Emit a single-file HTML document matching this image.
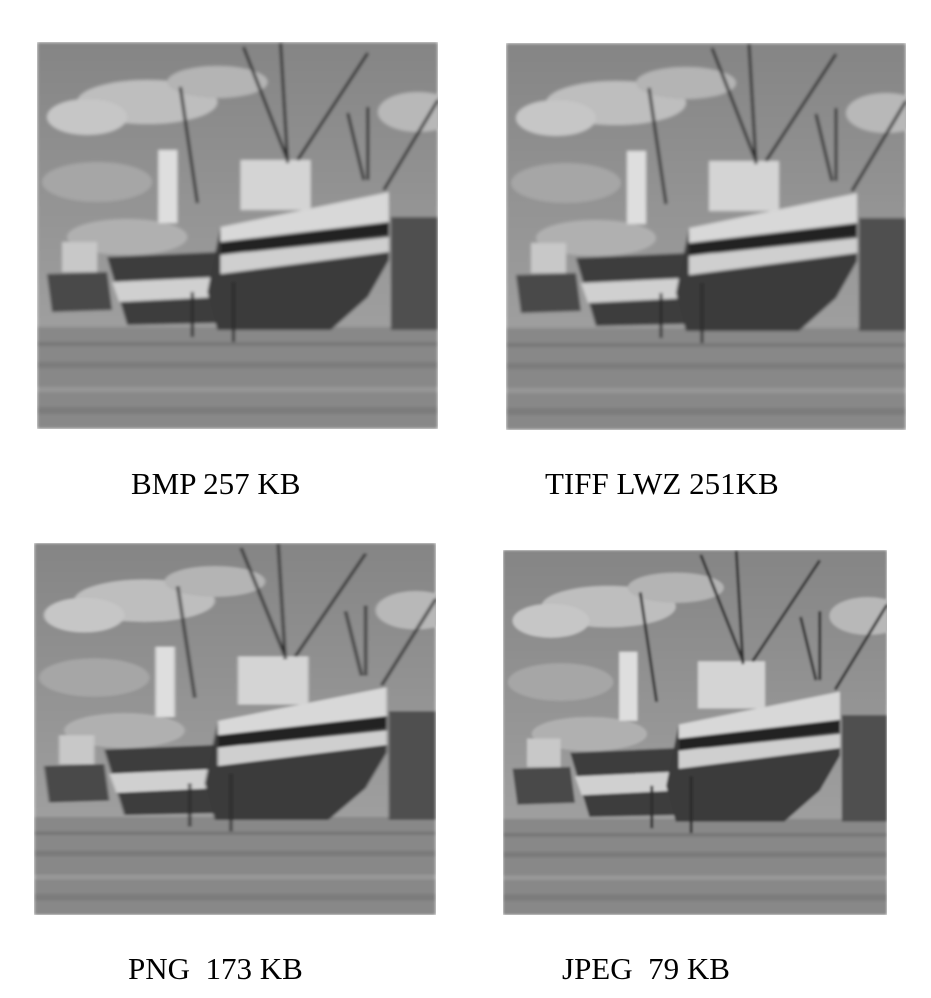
<!DOCTYPE html>
<html><head><meta charset="utf-8"><style>
html,body{margin:0;padding:0;background:#fff;}
body{width:931px;height:998px;position:relative;overflow:hidden;font-family:"Liberation Serif",serif;}
svg.img{position:absolute;}
.cap{position:absolute;font-size:31px;color:#000;white-space:pre;line-height:1;}
</style></head><body>
<svg width="0" height="0" style="position:absolute">
<defs>
<filter id="bl"><feGaussianBlur stdDeviation="1.5"/></filter>
<linearGradient id="sky" x1="0" y1="0" x2="0" y2="1"><stop offset="0" stop-color="#858585"/><stop offset="1" stop-color="#a0a0a0"/></linearGradient>
<symbol id="scene" viewBox="0 0 400 387" preserveAspectRatio="none">
<g filter="url(#bl)">
<rect width="400" height="300" fill="url(#sky)"/>
<ellipse cx="110" cy="60" rx="70" ry="22" fill="#bebebe"/>
<ellipse cx="50" cy="75" rx="40" ry="18" fill="#c6c6c6"/>
<ellipse cx="180" cy="40" rx="50" ry="16" fill="#b4b4b4"/>
<ellipse cx="380" cy="70" rx="40" ry="20" fill="#b8b8b8"/>
<ellipse cx="60" cy="140" rx="55" ry="20" fill="#a6a6a6"/>
<ellipse cx="90" cy="195" rx="60" ry="18" fill="#b0b0b0"/>
<rect y="285" width="400" height="102" fill="#888888"/>
<rect y="300" width="400" height="4" fill="#777"/>
<rect y="320" width="400" height="6" fill="#7a7a7a"/>
<rect y="345" width="400" height="5" fill="#989898"/>
<rect y="365" width="400" height="7" fill="#7c7c7c"/>
<polygon points="10,232 70,230 75,268 15,270" fill="#4a4a4a"/>
<rect x="25" y="200" width="35" height="30" fill="#c8c8c8"/>
<polygon points="70,215 182,210 180,281 90,283" fill="#3e3e3e"/>
<polygon points="75,240 182,235 182,255 82,260" fill="#d0d0d0"/>
<rect x="121" y="108" width="19" height="73" fill="#dedede"/>
<polygon points="183,185 351,150 351,218 330,255 293,288 180,288 170,250" fill="#3a3a3a"/>
<polygon points="183,185 351,150 351,183 183,215" fill="#d8d8d8"/>
<polygon points="183,200 351,180 351,192 183,213" fill="#202020"/>
<polygon points="183,213 351,195 351,210 183,232" fill="#cfcfcf"/>
<rect x="203" y="118" width="70" height="50" fill="#d4d4d4"/>
<rect x="353" y="175" width="47" height="113" fill="#505050"/>
<g stroke="#2a2a2a" stroke-width="3">
<line x1="206" y1="5" x2="250" y2="118"/><line x1="243" y1="1" x2="250" y2="121"/>
<line x1="330" y1="11" x2="260" y2="118"/><line x1="143" y1="45" x2="160" y2="161"/>
<line x1="330" y1="65" x2="330" y2="138"/><line x1="310" y1="71" x2="326" y2="138"/>
<line x1="400" y1="58" x2="346" y2="148"/><line x1="155" y1="250" x2="155" y2="295"/>
<line x1="196" y1="240" x2="196" y2="300"/>
</g>
</g>
</symbol>
</defs>
</svg>
<svg class="img" style="left:37px;top:42px" width="401" height="387"><use href="#scene" width="401" height="387"/></svg>
<svg class="img" style="left:506px;top:43px" width="400" height="387"><use href="#scene" width="400" height="387"/></svg>
<svg class="img" style="left:34px;top:543px" width="402" height="372"><use href="#scene" width="402" height="372"/></svg>
<svg class="img" style="left:503px;top:550px" width="384" height="365"><use href="#scene" width="384" height="365"/></svg>
<div class="cap" style="left:131px;top:468px">BMP 257 KB</div>
<div class="cap" style="left:545px;top:468px">TIFF LWZ 251KB</div>
<div class="cap" style="left:128px;top:953px">PNG  173 KB</div>
<div class="cap" style="left:562px;top:953px">JPEG  79 KB</div>
</body></html>
